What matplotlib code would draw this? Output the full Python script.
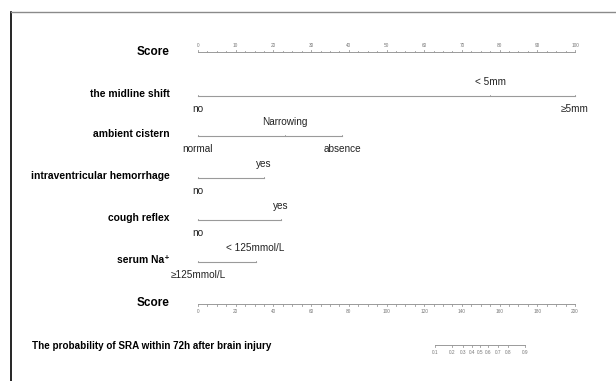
import matplotlib
matplotlib.use("Agg")
import matplotlib.pyplot as plt
import numpy as np

plt.rcParams['font.family'] = ['Liberation Sans', 'DejaVu Sans']

# nomogram data (points on the 0-100 "Score" scale)
var_names = ['the midline shift', 'ambient cistern', 'intraventricular hemorrhage',
             'cough reflex', 'serum Na\u207a']
var_levels = [['no', '< 5mm', '\u22655mm'],
              ['normal', 'Narrowing', 'absence'],
              ['no', 'yes'],
              ['no', 'yes'],
              ['\u2265125mmol/L', '< 125mmol/L']]
var_points = [[0, 77.5, 100],
              [0, 23, 38.2],
              [0, 17.5],
              [0, 22],
              [0, 15.3]]
# label above (1) or below (-1) the line
var_side = [[-1, 1, -1],
            [-1, 1, -1],
            [-1, 1],
            [-1, 1],
            [-1, 1]]

total_ticks = np.arange(0, 201, 20)
prob_labels = ['0.1', '0.2', '0.3', '0.4', '0.5', '0.6', '0.7', '0.8', '0.9']
prob_total = [125.7, 134.9, 140.4, 145.2, 149.6, 154.0, 159.3, 164.6, 173.5]

fig = plt.figure(figsize=(6.16, 3.81), dpi=100)
ax = fig.add_axes([0, 0, 1, 1])
px = 3.77  # pixels per point
ax.set_xlim(-198 / px, (616 - 198) / px)
ax.set_ylim(381, 0)
ax.axis('off')

# frame
fig.add_artist(plt.Line2D([11 / 616, 11 / 616], [0, 1 - 12 / 381], color='black', lw=1.2))
fig.add_artist(plt.Line2D([11 / 616, 1], [1 - 12 / 381, 1 - 12 / 381], color='#8a8a8a', lw=1.0))

lc = '#9a9a9a'
lab_x = -28 / px  # right edge of row labels

# top score axis
y0 = 52
ax.plot([0, 100], [y0, y0], color=lc, lw=0.7)
for t in np.arange(0, 100.1, 2.5):
    big = t % 10 == 0
    ax.plot([t, t], [y0, y0 - (2.2 if big else 1.5)], color=lc, lw=0.6)
    if big:
        ax.text(t, y0 - 4, f'{int(t)}', fontsize=3.4, color='#777777', ha='center', va='bottom')
ax.text(lab_x, y0, 'Score', fontsize=8.5, fontweight='bold', ha='right', va='center')

rows_y = [96, 136, 178, 220, 262]
for name, levels, pts, side, y in zip(var_names, var_levels, var_points, var_side, rows_y):
    ax.plot([0, max(pts)], [y, y], color=lc, lw=0.8)
    for lv, p, s in zip(levels, pts, side):
        ax.plot([p, p], [y, y - 1.2], color=lc, lw=0.6)
        ax.text(p, y - 14 if s > 0 else y + 13, lv, fontsize=7.2, color='#222222',
                ha='center', va='center')
    ax.text(lab_x, y - 2, name, fontsize=7.4, fontweight='bold', ha='right', va='center')

# total points axis
y1 = 304
ax.plot([0, 100], [y1, y1], color=lc, lw=0.7)
for t in np.arange(0, 200.1, 5):
    big = t % 20 == 0
    ax.plot([t / 2, t / 2], [y1, y1 + (2.2 if big else 1.5)], color=lc, lw=0.6)
for t in total_ticks:
    ax.text(t / 2, y1 + 5, f'{t}', fontsize=3.4, color='#777777', ha='center', va='top')
ax.text(lab_x, y1 - 1, 'Score', fontsize=8.5, fontweight='bold', ha='right', va='center')

# probability axis
y2 = 345
pv = np.array(prob_total) / 2
ax.plot([pv[0], pv[-1]], [y2, y2], color=lc, lw=0.7)
for p, lb in zip(pv, prob_labels):
    ax.plot([p, p], [y2, y2 + 2.2], color=lc, lw=0.6)
    ax.text(p, y2 + 5, lb, fontsize=3.4, color='#777777', ha='center', va='top')
ax.text(-166 / px, y2 + 1, 'The probability of SRA within 72h after brain injury',
        fontsize=7.1, fontweight='bold', ha='left', va='center')

fig.savefig('out.png', dpi=100)
